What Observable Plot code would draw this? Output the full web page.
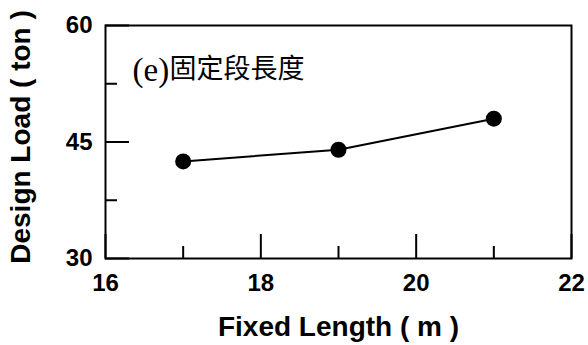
<!DOCTYPE html>
<html>
<head>
<meta charset="utf-8">
<script src="https://cdn.jsdelivr.net/npm/d3@7"></script>
<script src="https://cdn.jsdelivr.net/npm/@observablehq/plot@0.6"></script>
<style>
  html, body { margin: 0; padding: 0; background: #fff; }
  #chart svg { display: block; }
</style>
</head>
<body>
<div id="chart"></div>
<script>
// Data
const fixedLength = [17, 19, 21];          // m
const designLoad = [42.5, 44.0, 48.0];     // ton
const xMajorTicks = [16, 18, 20, 22];
const xMinorTicks = [17, 19, 21];
const yMajorTicks = [30, 45, 60];
const yMinorTicks = [37.5, 52.5];
const xLabel = "Fixed Length ( m )";
const yLabel = "Design Load ( ton )";
const annotationTag = "(e)";
const annotationText = "固定段長度";

const data = fixedLength.map((x, i) => ({x, y: designLoad[i]}));

const font = "Liberation Sans, Arial, sans-serif";
const fmt = d3.format("d");

const chart = Plot.plot({
  width: 588,
  height: 345,
  marginLeft: 105,
  marginRight: 17,
  marginTop: 25,
  marginBottom: 87,
  style: {fontFamily: font, color: "#000", background: "#fff"},
  x: {domain: [16, 22]},
  y: {domain: [30, 60]},
  marks: [
    Plot.frame({stroke: "#000", strokeWidth: 2}),
    // inward major / minor ticks
    Plot.axisX({ticks: xMajorTicks, tickSize: -24, text: null, label: null, stroke: "#000", strokeWidth: 2}),
    Plot.axisX({ticks: xMinorTicks, tickSize: -12, text: null, label: null, stroke: "#000", strokeWidth: 2}),
    Plot.axisY({ticks: yMajorTicks, tickSize: -24, text: null, label: null, stroke: "#000", strokeWidth: 2}),
    Plot.axisY({ticks: yMinorTicks, tickSize: -12, text: null, label: null, stroke: "#000", strokeWidth: 2}),
    // tick labels
    Plot.axisX({ticks: xMajorTicks, tickFormat: fmt, tickSize: 0, tickPadding: 15, label: null, fontSize: 24, fontWeight: "bold", fill: "#000"}),
    Plot.axisY({ticks: yMajorTicks, tickFormat: fmt, tickSize: 0, tickPadding: 13, label: null, fontSize: 24, fontWeight: "bold", fill: "#000"}),
    // axis titles
    Plot.text([xLabel], {frameAnchor: "bottom", dy: 77, textAnchor: "middle", text: d => d, fontSize: 28, fontWeight: "bold", fill: "#000"}),
    Plot.text([yLabel], {frameAnchor: "left", dx: -84, dy: -5, textAnchor: "middle", rotate: -90, text: d => d, fontSize: 28, fontWeight: "bold", fill: "#000"}),
    // annotation
    Plot.text([annotationTag], {frameAnchor: "top-left", dx: 27, dy: 32, textAnchor: "start", text: d => d, fontSize: 33, fontFamily: "Liberation Serif, serif", fill: "#000"}),
    Plot.text([annotationText], {frameAnchor: "top-left", dx: 64, dy: 33, textAnchor: "start", text: d => d, fontSize: 27, fontFamily: "Noto Sans CJK TC, sans-serif", fill: "#000"}),
    // data
    Plot.line(data, {x: "x", y: "y", stroke: "#000", strokeWidth: 2}),
    Plot.dot(data, {x: "x", y: "y", r: 8, fill: "#000", stroke: "none"})
  ]
});

document.getElementById("chart").appendChild(chart);
</script>
</body>
</html>
